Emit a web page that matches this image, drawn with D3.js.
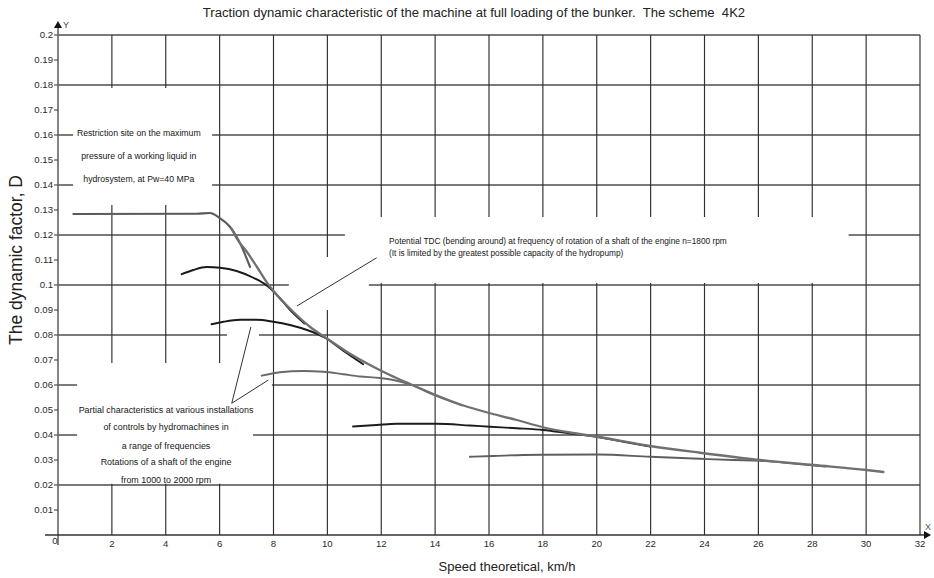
<!DOCTYPE html>
<html>
<head>
<meta charset="utf-8">
<script src="https://cdn.jsdelivr.net/npm/d3@7/dist/d3.min.js"></script>
<style>
  html, body { margin: 0; padding: 0; background: #fff; }
  svg { display: block; }
</style>
</head>
<body>
<svg id="chart" width="934" height="578"></svg>
<script>
// ---- Data -------------------------------------------------------------
const chartTitle = "Traction dynamic characteristic of the machine at full loading of the bunker.  The scheme  4K2";
const xAxisTitle = "Speed theoretical, km/h";
const yAxisTitle = "The dynamic factor, D";

const xTickValues = [0, 2, 4, 6, 8, 10, 12, 14, 16, 18, 20, 22, 24, 26, 28, 30, 32];
const xTickLabels = ["0", "2", "4", "6", "8", "10", "12", "14", "16", "18", "20", "22", "24", "26", "28", "30", "32"];
const yTickValues = [0.01, 0.02, 0.03, 0.04, 0.05, 0.06, 0.07, 0.08, 0.09, 0.1,
                     0.11, 0.12, 0.13, 0.14, 0.15, 0.16, 0.17, 0.18, 0.19, 0.2];
const yTickLabels = ["0.01", "0.02", "0.03", "0.04", "0.05", "0.06", "0.07", "0.08", "0.09", "0.1",
                     "0.11", "0.12", "0.13", "0.14", "0.15", "0.16", "0.17", "0.18", "0.19", "0.2"];
const yGridValues = [0.02, 0.04, 0.06, 0.08, 0.1, 0.12, 0.14, 0.16, 0.18, 0.2];
const xGridValues = [2, 4, 6, 8, 10, 12, 14, 16, 18, 20, 22, 24, 26, 28, 30, 32];

// [speed km/h, dynamic factor D]
const restrictionCurve = [[0.57, 0.1284], [5.15, 0.1285], [5.64, 0.1288], [6.01, 0.1267],
                          [6.38, 0.1233], [6.7, 0.118], [7.13, 0.1072]];

const potentialTDC = [[6.45, 0.1225], [6.63, 0.1187], [7.01, 0.1133], [7.38, 0.1073], [7.87, 0.0993],
                      [8.24, 0.0947], [8.73, 0.0893], [9.35, 0.0833], [9.97, 0.0787], [10.72, 0.0733],
                      [11.58, 0.068], [12.32, 0.064], [13.07, 0.0604], [14.0, 0.0561], [14.92, 0.0523],
                      [16.04, 0.0487], [17.03, 0.046], [18.01, 0.0431], [19.0, 0.041], [20.03, 0.0393],
                      [21.98, 0.0356], [23.83, 0.0329], [26.06, 0.03], [28.04, 0.028], [30.02, 0.026],
                      [30.64, 0.0252]];

const partial1 = [[4.59, 0.1043], [5.02, 0.106], [5.52, 0.1072], [6.01, 0.1069], [6.63, 0.1056],
                  [7.25, 0.1029], [7.75, 0.0998], [8.1, 0.0963], [8.6, 0.0902], [9.15, 0.0846]];

const partial2 = [[5.7, 0.0843], [6.14, 0.0853], [6.76, 0.0861], [7.38, 0.0861], [7.99, 0.0853],
                  [8.61, 0.084], [9.35, 0.0816], [9.91, 0.0789], [10.59, 0.0737], [11.33, 0.0683]];

const partial3 = [[7.56, 0.0637], [8.24, 0.0651], [9.11, 0.0656], [9.85, 0.0653], [10.59, 0.0643],
                  [11.21, 0.0634], [11.95, 0.0628], [12.45, 0.062], [13.07, 0.0602], [14.0, 0.0558],
                  [14.99, 0.0518]];

const partial4 = [[10.95, 0.0434], [11.83, 0.044], [12.57, 0.0445], [14.06, 0.0445], [15.29, 0.0438],
                  [16.04, 0.0433], [17.03, 0.0427], [18.01, 0.042], [19.0, 0.0406], [20.03, 0.0392],
                  [21.0, 0.0373], [21.98, 0.0354]];

const partial5 = [[15.29, 0.0313], [16.16, 0.0316], [17.27, 0.032], [18.01, 0.0321], [20.03, 0.0322],
                  [21.98, 0.0313], [23.83, 0.0305], [25.07, 0.03], [26.06, 0.0297], [27.2, 0.0287],
                  [28.5, 0.0274]];

const note1Lines = ["Restriction site on the maximum", "pressure of a working liquid in", "hydrosystem, at Pw=40 MPa"];
const note2Lines = ["Potential TDC (bending around) at frequency of rotation of a shaft of the engine n=1800 rpm",
                    "(It is limited by the greatest possible capacity of the hydropump)"];
const note3Lines = ["Partial characteristics at various installations", "of controls by hydromachines in",
                    "a range of frequencies", "Rotations of a shaft of the engine", "from 1000 to 2000 rpm"];

// ---- Layout (in data units where it sits on the plot) -----------------
const W = 934, H = 578;
const plot = { left: 58, right: 920, top: 35, bottom: 535 };

const x = d3.scaleLinear().domain([0, 32]).range([plot.left, plot.right]);
const y = d3.scaleLinear().domain([0, 0.2]).range([plot.bottom, plot.top]);

// white panels behind the notes and leader lines, [x0, x1, D0, D1]
const panels = [
  [0.56, 5.72, 0.1788, 0.132],
  [10.65, 29.35, 0.1272, 0.1008],
  [8.57, 11.54, 0.1112, 0.0900],
  [0.71, 7.24, 0.0688, 0.0205],
  [6.27, 7.46, 0.0836, 0.0524],
  [6.42, 7.94, 0.0628, 0.0524]
];
const leaders = [
  [[8.87, 0.0916], [11.83, 0.1109]],
  [[6.45, 0.0527], [7.16, 0.0832]],
  [[6.45, 0.0527], [7.81, 0.0620]]
];

const svg = d3.select("#chart");
svg.append("rect").attr("width", W).attr("height", H).attr("fill", "#fff");

const FONT = "'Liberation Sans', Arial, sans-serif";

// scale a text element's font so that it spans the given width
function fitText(sel, width) {
  const w = sel.node().getComputedTextLength();
  const fs = parseFloat(sel.attr("font-size"));
  const nfs = fs * width / w;
  sel.attr("font-size", nfs);
  return nfs;
}

// ---- Grid --------------------------------------------------------------
const grid = svg.append("g");
grid.selectAll("line.h").data(yGridValues).join("line")
  .attr("x1", plot.left).attr("x2", plot.right)
  .attr("y1", d => y(d)).attr("y2", d => y(d))
  .attr("stroke", "#7a7a7a").attr("stroke-width", 1.8);
grid.selectAll("line.v").data(xGridValues).join("line")
  .attr("x1", d => x(d)).attr("x2", d => x(d))
  .attr("y1", y(0.2)).attr("y2", y(0))
  .attr("stroke", "#2e2e2e").attr("stroke-width", 1.15);

// panels hide the grid behind the notes
svg.append("g").selectAll("rect").data(panels).join("rect")
  .attr("x", d => x(d[0])).attr("y", d => y(d[2]))
  .attr("width", d => x(d[1]) - x(d[0])).attr("height", d => y(d[3]) - y(d[2]))
  .attr("fill", "#fff");

// ---- Axes --------------------------------------------------------------
const axes = svg.append("g");
axes.append("line")
  .attr("x1", plot.left).attr("x2", plot.left)
  .attr("y1", plot.bottom + 10).attr("y2", plot.top - 10)
  .attr("stroke", "#6f6f6f").attr("stroke-width", 1.7);
axes.append("path")
  .attr("d", `M${plot.left},${plot.top - 14} L${plot.left - 4},${plot.top - 7} L${plot.left + 4},${plot.top - 7} Z`)
  .attr("fill", "#111");
axes.append("text").attr("x", plot.left + 5).attr("y", plot.top - 7)
  .attr("font-family", FONT).attr("font-size", 9).attr("fill", "#444").text("Y");

axes.append("line")
  .attr("x1", plot.left - 13).attr("x2", plot.right + 5)
  .attr("y1", plot.bottom).attr("y2", plot.bottom)
  .attr("stroke", "#333").attr("stroke-width", 1.4);
axes.append("path")
  .attr("d", `M${plot.right + 11},${plot.bottom} L${plot.right + 4},${plot.bottom - 4} L${plot.right + 4},${plot.bottom + 4} Z`)
  .attr("fill", "#111");
axes.append("text").attr("x", plot.right + 5).attr("y", plot.bottom - 5)
  .attr("font-family", FONT).attr("font-size", 9).attr("fill", "#555").text("X");

// y ticks
const yt = axes.append("g").selectAll("g").data(yTickValues).join("g")
  .attr("transform", d => `translate(${plot.left},${y(d)})`);
yt.append("line").attr("x1", -4).attr("x2", 0).attr("stroke", "#444").attr("stroke-width", 1.1);
yt.append("text").attr("x", -5).attr("dy", "0.35em").attr("text-anchor", "end")
  .attr("font-family", FONT).attr("font-size", 9.6).attr("fill", "#2a2a2a")
  .text((d, i) => yTickLabels[i]);

// x ticks
axes.append("g").selectAll("text").data(xTickValues).join("text")
  .attr("x", d => x(d) - (d === 0 ? 3 : 0))
  .attr("y", d => plot.bottom + (d === 0 ? 6 : 9))
  .attr("dy", "0.35em").attr("text-anchor", "middle")
  .attr("font-family", FONT).attr("font-size", 9.6).attr("fill", "#2a2a2a")
  .text((d, i) => xTickLabels[i]);

// ---- Curves ------------------------------------------------------------
const line = d3.line().x(d => x(d[0])).y(d => y(d[1])).curve(d3.curveMonotoneX);
const curves = svg.append("g").attr("fill", "none").attr("stroke-linecap", "round");
curves.append("path").datum(partial5).attr("d", line).attr("stroke", "#5e5e5e").attr("stroke-width", 1.8);
curves.append("path").datum(partial4).attr("d", line).attr("stroke", "#1c1c1c").attr("stroke-width", 1.8);
curves.append("path").datum(partial3).attr("d", line).attr("stroke", "#6a6a6a").attr("stroke-width", 1.8);
curves.append("path").datum(partial2).attr("d", line).attr("stroke", "#1a1a1a").attr("stroke-width", 1.9);
curves.append("path").datum(partial1).attr("d", line).attr("stroke", "#1a1a1a").attr("stroke-width", 1.9);
curves.append("path").datum(restrictionCurve).attr("d", line).attr("stroke", "#5a5a5a").attr("stroke-width", 2.1);
curves.append("path").datum(potentialTDC).attr("d", line).attr("stroke", "#707070").attr("stroke-width", 2.3);

// leader lines
svg.append("g").selectAll("line").data(leaders).join("line")
  .attr("x1", d => x(d[0][0])).attr("y1", d => y(d[0][1]))
  .attr("x2", d => x(d[1][0])).attr("y2", d => y(d[1][1]))
  .attr("stroke", "#333").attr("stroke-width", 1);

// ---- Notes -------------------------------------------------------------
function noteBlock(lines, cx, ys, anchor, size, firstWidth) {
  const g = svg.append("g");
  const t = g.selectAll("text").data(lines).join("text")
    .attr("x", x(cx)).attr("y", (d, i) => y(ys[i])).attr("dy", "0.35em")
    .attr("text-anchor", anchor)
    .attr("font-family", FONT).attr("font-size", size).attr("fill", "#161616")
    .text(d => d);
  const fs = fitText(d3.select(t.nodes()[0]), firstWidth);
  t.attr("font-size", fs);
}
noteBlock(note1Lines, 3.0, [0.1609, 0.1516, 0.1423], "middle", 8.5, 124);
noteBlock(note2Lines, 12.29, [0.1176, 0.1129], "start", 8, 338);
noteBlock(note3Lines, 4.01, [0.05, 0.0433, 0.0356, 0.0293, 0.022], "middle", 8, 175);

// ---- Titles ------------------------------------------------------------
const title = svg.append("text").attr("x", 474).attr("y", 12).attr("dy", "0.35em")
  .attr("text-anchor", "middle").attr("font-family", FONT).attr("font-size", 12)
  .style("white-space", "pre")
  .attr("fill", "#222").text(chartTitle);
fitText(title, 543);

const xt = svg.append("text").attr("x", 507).attr("y", 566).attr("dy", "0.35em")
  .attr("text-anchor", "middle").attr("font-family", FONT).attr("font-size", 13)
  .attr("fill", "#222").text(xAxisTitle);
fitText(xt, 137);

const ytl = svg.append("text").attr("transform", "translate(16,260) rotate(-90)").attr("dy", "0.35em")
  .attr("text-anchor", "middle").attr("font-family", FONT).attr("font-size", 13)
  .attr("fill", "#222").text(yAxisTitle);
fitText(ytl, 170);
</script>
</body>
</html>
